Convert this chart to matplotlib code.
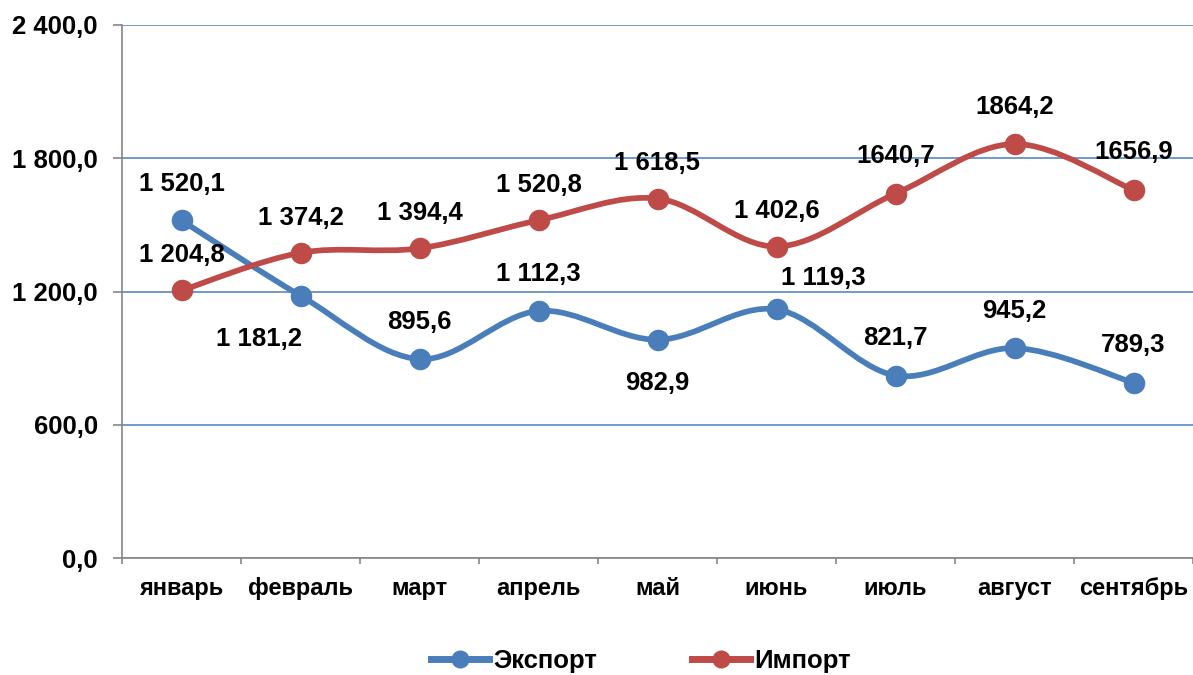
import numpy as np
import matplotlib
matplotlib.use("Agg")
import matplotlib.pyplot as plt
from matplotlib.path import Path
from matplotlib.patches import PathPatch
from matplotlib.lines import Line2D

# ---------------- data ----------------
months = ["январь", "февраль", "март", "апрель", "май", "июнь", "июль", "август", "сентябрь"]
export_vals = [1520.1, 1181.2, 895.6, 1112.3, 982.9, 1119.3, 821.7, 945.2, 789.3]
import_vals = [1204.8, 1374.2, 1394.4, 1520.8, 1618.5, 1402.6, 1640.7, 1864.2, 1656.9]
export_labels = ["1 520,1", "1 181,2", "895,6", "1 112,3", "982,9", "1 119,3", "821,7", "945,2", "789,3"]
import_labels = ["1 204,8", "1 374,2", "1 394,4", "1 520,8", "1 618,5", "1 402,6", "1640,7", "1864,2", "1656,9"]
y_ticks = [0, 600, 1200, 1800, 2400]
y_tick_labels = ["0,0", "600,0", "1 200,0", "1 800,0", "2 400,0"]
series_names = ["Экспорт", "Импорт"]

# ---------------- style ----------------
plt.rcParams['font.family'] = ['Liberation Sans', 'DejaVu Sans']
plt.rcParams['font.weight'] = 'bold'
BLUE = "#4a7ebb"
RED = "#be4b48"
GRID = "#4a7ebb"
AXIS = "#868686"
FS = 18.5
FS_X = 17

# label offsets in pixels (dx, dy), positive dy = up
export_offsets = [(0, 36), (-42, -43), (0, 37), (0, 37), (0, -43), (47, 31), (0, 38), (0, 37), (0, 38)]
import_offsets = [(0, 35), (0, 35), (0, 35), (0, 35), (0, 36), (0, 36), (0, 38), (0, 37), (0, 38)]

fig = plt.figure(figsize=(11.93, 6.75), dpi=100)
W, H = 1193, 675
ax = fig.add_axes([122 / W, 1 - 558 / H, (1193 - 122) / W, (558 - 25) / H])

x = np.arange(len(months))
ax.set_xlim(-0.5, len(months) - 0.5)
ax.set_ylim(0, 2400)


def smooth_path(xs, ys):
    pts = np.column_stack([xs, ys]).astype(float)
    n = len(pts)
    verts = [pts[0]]
    codes = [Path.MOVETO]
    for i in range(n - 1):
        p0 = pts[i - 1] if i > 0 else pts[i]
        p1 = pts[i]
        p2 = pts[i + 1]
        p3 = pts[i + 2] if i + 2 < n else pts[i + 1]
        c1 = p1 + (p2 - p0) / 6.0
        c2 = p2 - (p3 - p1) / 6.0
        verts += [c1, c2, p2]
        codes += [Path.CURVE4] * 3
    return Path(np.array(verts), codes)


for vals, col, z in [(export_vals, BLUE, 3), (import_vals, RED, 4)]:
    patch = PathPatch(smooth_path(x, vals), facecolor='none', edgecolor=col,
                      linewidth=4.1, capstyle='round', joinstyle='round', zorder=z)
    ax.add_patch(patch)
    ax.plot(x, vals, linestyle='none', marker='o', markersize=15.5,
            markerfacecolor=col, markeredgecolor=col, markeredgewidth=0, zorder=z + 0.1,
            clip_on=False)

for vals, labs, offs in [(export_vals, export_labels, export_offsets),
                         (import_vals, import_labels, import_offsets)]:
    for xi, v, lab, (dx, dy) in zip(x, vals, labs, offs):
        ax.annotate(lab, (xi, v), xytext=(dx, dy), textcoords='offset pixels',
                    ha='center', va='center', fontsize=FS, fontweight='bold',
                    color='black', zorder=10)

# axes styling
for s in ['top', 'right']:
    ax.spines[s].set_visible(False)
for s in ['left', 'bottom']:
    ax.spines[s].set_color(AXIS)
    ax.spines[s].set_linewidth(1.2)

ax.set_yticks(y_ticks)
ax.set_yticklabels(y_tick_labels, fontsize=FS, fontweight='bold')
ax.tick_params(axis='y', direction='out', length=6.5, width=1.2, color=AXIS, pad=11)
ax.yaxis.grid(True, color=GRID, linewidth=1.1)
ax.set_axisbelow(True)

ax.set_xticks(x)
ax.set_xticklabels(months, fontsize=FS_X, fontweight='bold')
ax.tick_params(axis='x', which='major', length=0, pad=14)
ax.set_xticks(np.arange(-0.5, len(months), 1.0), minor=True)
ax.tick_params(axis='x', which='minor', direction='out', length=4.5, width=1.2, color=AXIS)

handles = [Line2D([0], [0], color=BLUE, lw=5, marker='o', markersize=13,
                  markerfacecolor=BLUE, markeredgewidth=0),
           Line2D([0], [0], color=RED, lw=5, marker='o', markersize=13,
                  markerfacecolor=RED, markeredgewidth=0)]
fig.legend(handles, series_names, loc='center', bbox_to_anchor=(641 / W, 1 - 661 / H),
           ncol=2, frameon=False, prop={'size': FS, 'weight': 'bold'},
           handlelength=2.26, handletextpad=0.15, columnspacing=3.7)

fig.savefig("out.png", dpi=100)
